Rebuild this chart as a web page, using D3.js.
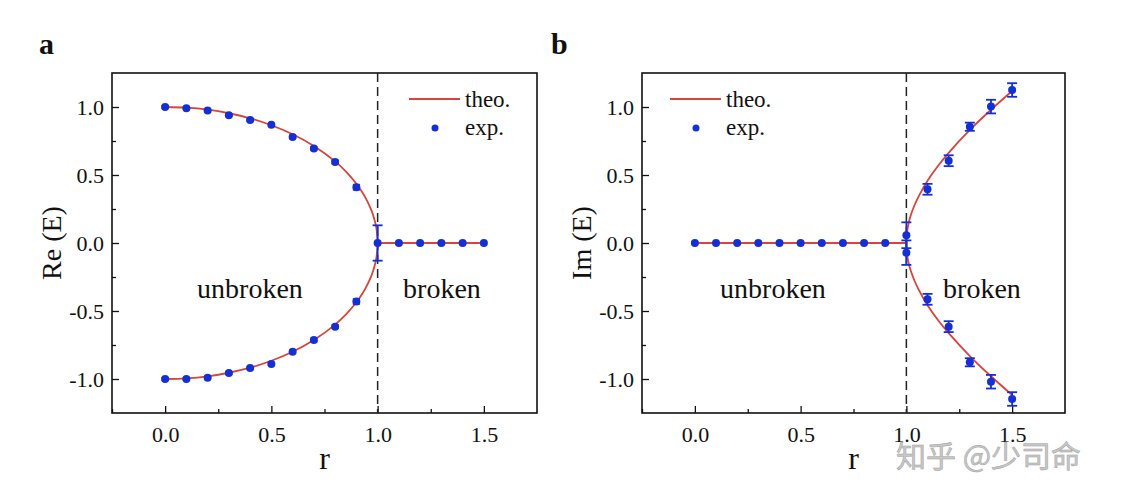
<!DOCTYPE html>
<html>
<head>
<meta charset="utf-8">
<script src="https://cdn.jsdelivr.net/npm/d3@7"></script>
<style>
  body { margin: 0; background: #fff; }
  svg { display: block; }
  text { font-family: "Liberation Serif", "Times New Roman", serif; fill: #111; }
</style>
</head>
<body>
<svg id="chart" width="1134" height="500"></svg>
<script>

// ---- data ----

// panel a : Re(E)
const rUnbroken = [0, 0.1, 0.2, 0.3, 0.4, 0.5, 0.6, 0.7, 0.8, 0.9];
const reUpper = [1.0, 0.99, 0.975, 0.94, 0.905, 0.87, 0.78, 0.695, 0.596, 0.41];
const reLower = [-1.0, -1.0, -0.99, -0.955, -0.92, -0.89, -0.8, -0.713, -0.615, -0.43];
const reErr = [0.008, 0.008, 0.008, 0.008, 0.008, 0.008, 0.01, 0.01, 0.012, 0.018];
const rEP = [1.0];
const reEP = [0];
const reEPErr = [0.13];
const rBroken = [1.1, 1.2, 1.3, 1.4, 1.5];
const reBroken = [0, 0, 0, 0, 0];

// theory curve, panel a
const theoRUpper = [0, 0.1, 0.2, 0.3, 0.4, 0.5, 0.6, 0.7, 0.8, 0.85, 0.9, 0.93, 0.95, 0.97, 0.98, 0.99, 0.995, 1.0];
const theoReUpper = [1, 0.995, 0.98, 0.954, 0.917, 0.866, 0.8, 0.714, 0.6, 0.527, 0.436, 0.368, 0.312, 0.243, 0.199, 0.141, 0.1, 0];
const theoRLower = [1.0, 0.995, 0.99, 0.98, 0.97, 0.95, 0.93, 0.9, 0.85, 0.8, 0.7, 0.6, 0.5, 0.4, 0.3, 0.2, 0.1, 0];
const theoReLower = [0, -0.1, -0.141, -0.199, -0.243, -0.312, -0.368, -0.436, -0.527, -0.6, -0.714, -0.8, -0.866, -0.917, -0.954, -0.98, -0.995, -1];
const theoRFlat = [1.0, 1.5];
const theoReFlat = [0, 0];

// panel b : Im(E)
const imUnbroken = [0, 0, 0, 0, 0, 0, 0, 0, 0, 0];
const rEPb = [1.0, 1.0];
const imEP = [0.057, -0.071];
const imEPErr = [0.095, 0.09];
const imUpper = [0.395, 0.605, 0.855, 1.003, 1.125];
const imLower = [-0.414, -0.615, -0.877, -1.02, -1.147];
const imErr = [0.04, 0.04, 0.03, 0.05, 0.05];

// theory curve, panel b
const theoRFlatB = [0, 1.0];
const theoImFlat = [0, 0];
const theoRBranch = [1.0, 1.005, 1.01, 1.02, 1.04, 1.06, 1.1, 1.15, 1.2, 1.3, 1.4, 1.5];
const theoImUpper = [0, 0.1, 0.142, 0.201, 0.283, 0.348, 0.458, 0.568, 0.663, 0.831, 0.98, 1.118];
const theoImLower = [0, -0.1, -0.142, -0.201, -0.283, -0.348, -0.458, -0.568, -0.663, -0.831, -0.98, -1.118];

// axes
const xDomain = [-0.25, 1.75];
const yDomain = [-1.25, 1.25];
const xMajor = [0, 0.5, 1.0, 1.5];
const xMinor = [-0.25, 0.25, 0.75, 1.25];
const yMajor = [-1.0, -0.5, 0, 0.5, 1.0];
const yMinor = [-0.75, -0.25, 0.25, 0.75];

const RED = "#d8443c";
const BLUE = "#1430d4";

const zip = (xs, ys) => xs.map((x, i) => ({x: x, y: ys[i]}));
const zip3 = (xs, ys, es) => xs.map((x, i) => ({x: x, y: ys[i], e: es[i]}));

const svg = d3.select("#chart");

function drawPanel(opt) {

	const x = d3.scaleLinear().domain(xDomain).range([opt.left, opt.right]);
	const y = d3.scaleLinear().domain(yDomain).range([opt.bottom, opt.top]);

	const g = svg.append("g");

	// ticks (inward)
	const fmt = d => d.toFixed(1);
	g.append("g")
		.attr("transform", "translate(0," + opt.bottom + ")")
		.call(d3.axisBottom(x).tickValues(xMajor).tickSize(-7).tickPadding(13).tickFormat(fmt))
		.call(a => a.select(".domain").remove())
		.call(a => a.selectAll("text").style("font-size", "22px").style("font-family", "Liberation Serif"));
	g.append("g")
		.attr("transform", "translate(0," + opt.bottom + ")")
		.call(d3.axisBottom(x).tickValues(xMinor).tickSize(-4).tickFormat(""))
		.call(a => a.select(".domain").remove());
	g.append("g")
		.attr("transform", "translate(" + opt.left + ",0)")
		.call(d3.axisLeft(y).tickValues(yMajor).tickSize(-7).tickPadding(8).tickFormat(fmt))
		.call(a => a.select(".domain").remove())
		.call(a => a.selectAll("text").style("font-size", "22px").style("font-family", "Liberation Serif"));
	g.append("g")
		.attr("transform", "translate(" + opt.left + ",0)")
		.call(d3.axisLeft(y).tickValues(yMinor).tickSize(-4).tickFormat(""))
		.call(a => a.select(".domain").remove());
	g.selectAll(".tick line").attr("stroke", "#111").attr("stroke-width", 1.3);

	// frame
	g.append("rect")
		.attr("x", opt.left).attr("y", opt.top)
		.attr("width", opt.right - opt.left).attr("height", opt.bottom - opt.top)
		.attr("fill", "none").attr("stroke", "#111").attr("stroke-width", 1.6);

	// exceptional point dashed line
	g.append("line")
		.attr("x1", x(1)).attr("x2", x(1))
		.attr("y1", opt.top).attr("y2", opt.bottom)
		.attr("stroke", "#222").attr("stroke-width", 1.5)
		.attr("stroke-dasharray", "9,5");

	// theory lines
	const line = d3.line().x(d => x(d.x)).y(d => y(d.y)).curve(d3.curveCatmullRom.alpha(0.5));
	opt.theo.forEach(pts => {
		g.append("path")
			.attr("d", line(pts))
			.attr("fill", "none")
			.attr("stroke", RED)
			.attr("stroke-width", 1.8);
	});

	// error bars + points
	const pts = opt.exp;
	const eb = g.append("g").attr("stroke", BLUE).attr("stroke-width", 1.8);
	pts.filter(d => d.e > 0).forEach(d => {
		const cx = x(d.x), y1 = y(d.y + d.e), y2 = y(d.y - d.e);
		const w = d.e < 0.025 ? 3.5 : 5;
		eb.append("line").attr("x1", cx).attr("x2", cx).attr("y1", y1).attr("y2", y2);
		eb.append("line").attr("x1", cx - w).attr("x2", cx + w).attr("y1", y1).attr("y2", y1);
		eb.append("line").attr("x1", cx - w).attr("x2", cx + w).attr("y1", y2).attr("y2", y2);
	});
	g.selectAll("circle.pt")
		.data(pts)
		.enter()
		.append("circle")
			.attr("class", "pt")
			.attr("cx", d => x(d.x))
			.attr("cy", d => y(d.y))
			.attr("r", 4)
			.attr("fill", BLUE);

	// legend
	const lx = opt.legendX;
	g.append("line")
		.attr("x1", lx).attr("x2", lx + 51).attr("y1", 99).attr("y2", 99)
		.attr("stroke", RED).attr("stroke-width", 1.8);
	g.append("circle").attr("cx", lx + 26).attr("cy", 128).attr("r", 3.5).attr("fill", BLUE);
	g.append("text").attr("x", lx + 56).attr("y", 107).style("font-size", "23px").text("theo.");
	g.append("text").attr("x", lx + 56).attr("y", 135).style("font-size", "23px").text("exp.");

	// region labels
	g.append("text").attr("x", opt.unbrokenX).attr("y", 298).attr("text-anchor", "middle")
		.style("font-size", "28px").text("unbroken");
	g.append("text").attr("x", opt.brokenX).attr("y", 298).attr("text-anchor", "middle")
		.style("font-size", "28px").text("broken");

	// axis titles
	g.append("text")
		.attr("x", (opt.left + opt.right) / 2).attr("y", 469)
		.attr("text-anchor", "middle")
		.style("font-size", "32px").text("r");
	g.append("text")
		.attr("transform", "translate(" + (opt.left - 51) + "," + ((opt.top + opt.bottom) / 2) + ") rotate(-90)")
		.attr("text-anchor", "middle")
		.style("font-size", "28px").text(opt.yLabel);

	// panel letter
	g.append("text")
		.attr("x", opt.letterX).attr("y", 54)
		.style("font-size", "30px").style("font-weight", "bold")
		.text(opt.letter);
}

drawPanel({
	left: 112, right: 537, top: 73, bottom: 413,
	letter: "a", letterX: 39,
	yLabel: "Re (E)",
	legendX: 409,
	unbrokenX: 250, brokenX: 442,
	theo: [
		zip(theoRUpper, theoReUpper).concat(zip(theoRLower, theoReLower).slice(1)),
		zip(theoRFlat, theoReFlat)
	],
	exp: zip3(rUnbroken, reUpper, reErr)
		.concat(zip3(rUnbroken, reLower, reErr))
		.concat(zip3(rEP, reEP, reEPErr))
		.concat(zip3(rBroken, reBroken, rBroken.map(() => 0)))
});

drawPanel({
	left: 642, right: 1065, top: 73, bottom: 413,
	letter: "b", letterX: 551,
	yLabel: "Im (E)",
	legendX: 670,
	unbrokenX: 773, brokenX: 982,
	theo: [
		zip(theoRFlatB, theoImFlat),
		zip(theoRBranch, theoImUpper).reverse().concat(zip(theoRBranch, theoImLower).slice(1))
	],
	exp: zip3(rUnbroken, imUnbroken, rUnbroken.map(() => 0))
		.concat(zip3(rEPb, imEP, imEPErr))
		.concat(zip3(rBroken, imUpper, imErr))
		.concat(zip3(rBroken, imLower, imErr))
});

// watermark
svg.append("text")
	.attr("x", 896).attr("y", 467)
	.style("font-family", "Noto Sans CJK SC")
	.style("font-size", "30px")
	.style("fill", "#c8c8c8")
	.style("stroke", "#a0a0a0").style("stroke-width", 0.5)
	.text("知乎 @少司命");

</script>
</body>
</html>
